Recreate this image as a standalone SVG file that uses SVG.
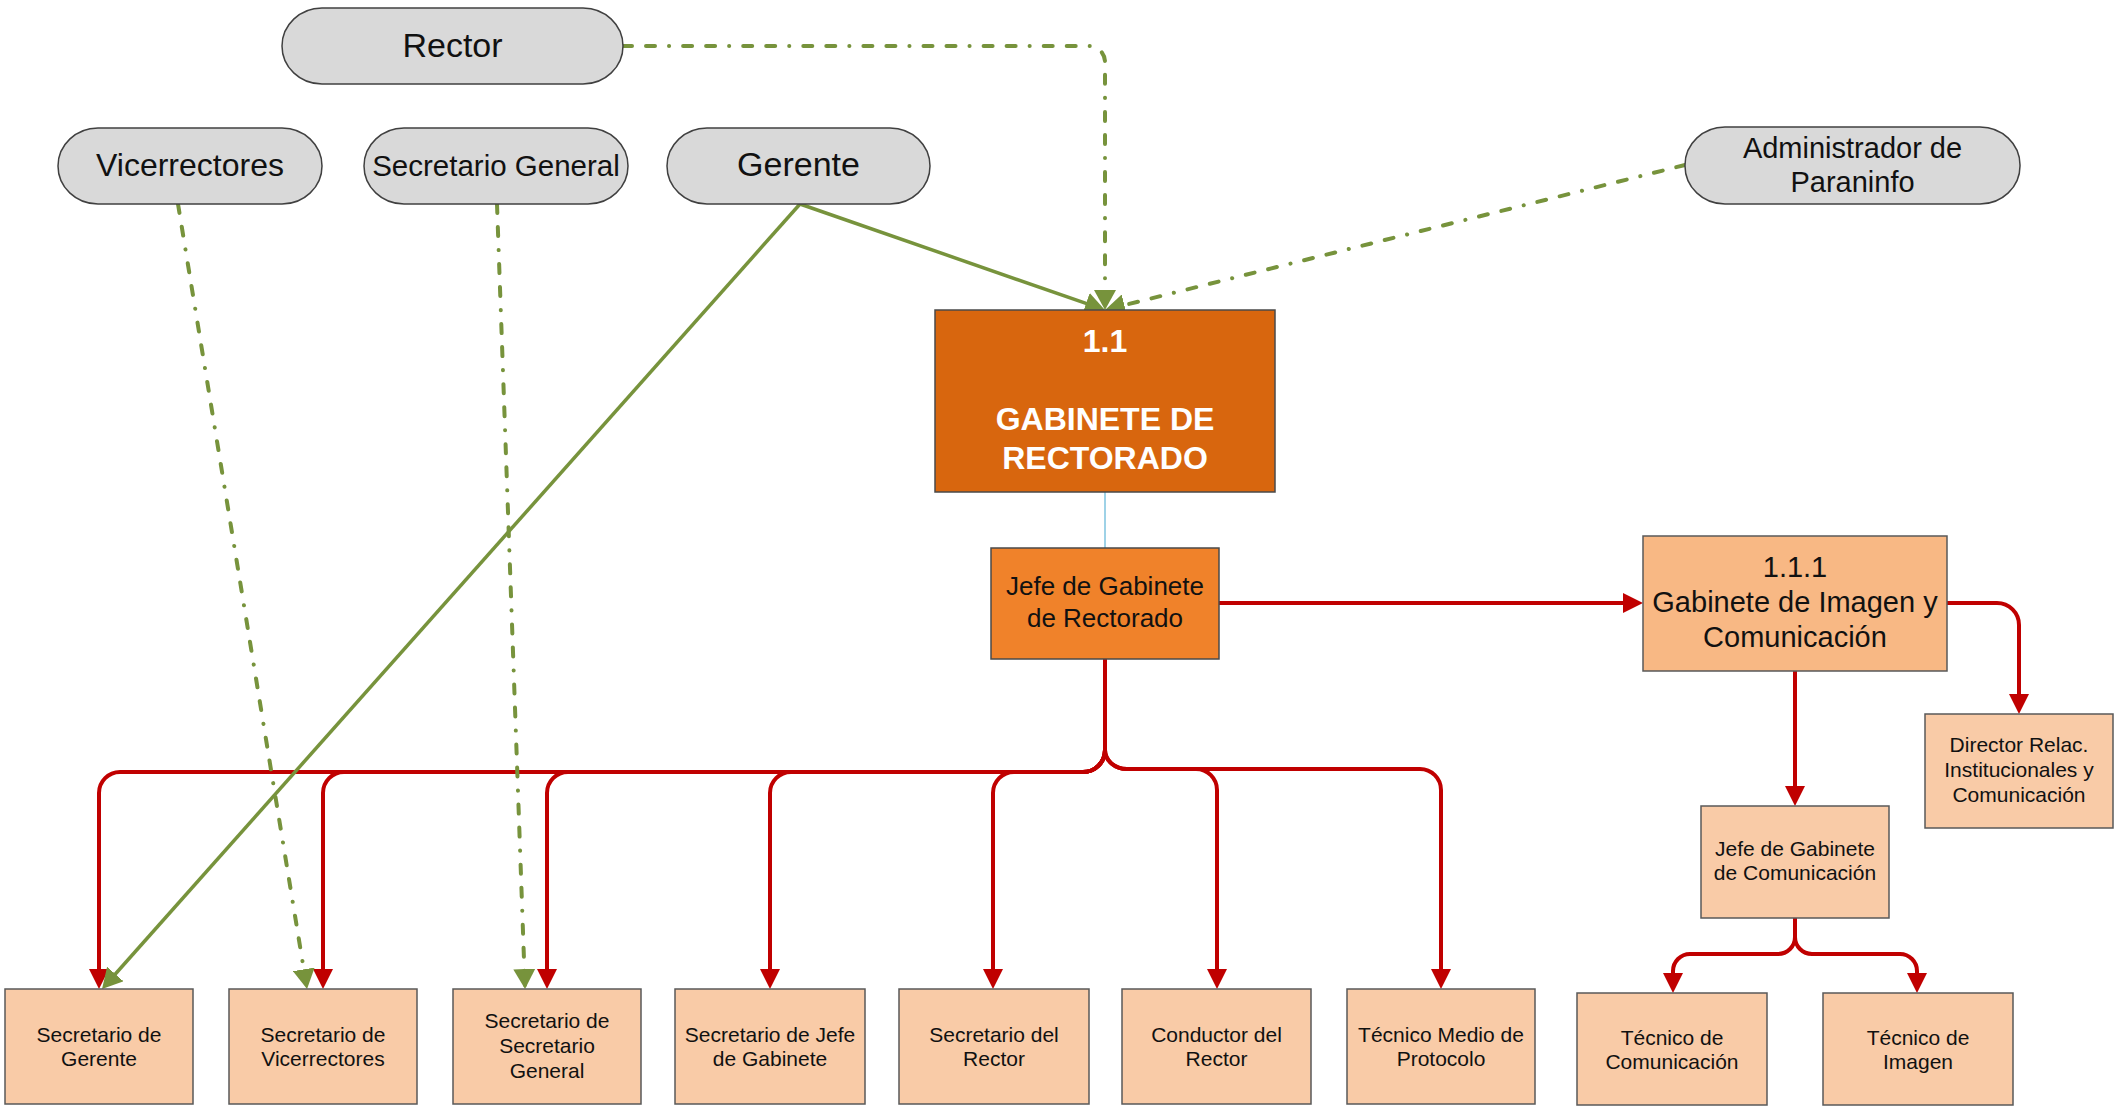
<svg xmlns="http://www.w3.org/2000/svg" width="2114" height="1114" viewBox="0 0 2114 1114">
<style>
  text { font-family: "Liberation Sans", Arial, sans-serif; fill: #111; text-anchor: middle; }
  .pill { fill: #D9D9D9; stroke: #404040; stroke-width: 1.5; }
  .box { fill: #F9CBA7; stroke: #595959; stroke-width: 1.5; }
  .red { fill: none; stroke: #C00000; stroke-width: 4; }
  .grn { fill: none; stroke: #77933C; stroke-width: 3.5; }
  .dd { fill: none; stroke: #77933C; stroke-width: 4; stroke-linecap: round; stroke-dasharray: 9 14 9 14 0.1 14; }
  .t21 { font-size: 21px; }
</style>
<defs>
  <marker id="arR" viewBox="0 0 20 20" refX="16" refY="10" markerWidth="20" markerHeight="20" orient="auto" markerUnits="userSpaceOnUse">
    <path d="M0,0 L20,10 L0,20 z" fill="#C00000"/>
  </marker>
  <marker id="arG" viewBox="0 0 20 22" refX="16" refY="11" markerWidth="20" markerHeight="22" orient="auto" markerUnits="userSpaceOnUse">
    <path d="M0,0 L20,11 L0,22 z" fill="#77933C"/>
  </marker>
</defs>
<rect width="2114" height="1114" fill="#FFFFFF"/>

<g id="connectors">
  <path d="M1105,492 V548" fill="none" stroke="#7EC3DF" stroke-width="1.5"/>
  <!-- Jefe to bottom row (left) -->
  <path class="red" marker-end="url(#arR)" d="M1105,659 V750 A22,22 0 0 1 1083,772 H120 A21,21 0 0 0 99,793 V985"/>
  <path class="red" marker-end="url(#arR)" d="M1105,659 V750 A22,22 0 0 1 1083,772 H344 A21,21 0 0 0 323,793 V985"/>
  <path class="red" marker-end="url(#arR)" d="M1105,659 V750 A22,22 0 0 1 1083,772 H568 A21,21 0 0 0 547,793 V985"/>
  <path class="red" marker-end="url(#arR)" d="M1105,659 V750 A22,22 0 0 1 1083,772 H791 A21,21 0 0 0 770,793 V985"/>
  <path class="red" marker-end="url(#arR)" d="M1105,659 V750 A22,22 0 0 1 1083,772 H1014 A21,21 0 0 0 993,793 V985"/>
  <!-- Jefe to bottom row (right) -->
  <path class="red" marker-end="url(#arR)" d="M1105,659 V750 A22,19 0 0 0 1127,769 H1196 A21,21 0 0 1 1217,790 V985"/>
  <path class="red" marker-end="url(#arR)" d="M1105,659 V750 A22,19 0 0 0 1127,769 H1420 A21,21 0 0 1 1441,790 V985"/>
  <!-- Jefe to 1.1.1 -->
  <path class="red" marker-end="url(#arR)" d="M1219,603 H1639"/>
  <!-- 1.1.1 to Director -->
  <path class="red" marker-end="url(#arR)" d="M1947,603 H1997 A22,22 0 0 1 2019,625 V710"/>
  <!-- 1.1.1 to Jefe Com -->
  <path class="red" marker-end="url(#arR)" d="M1795,671 V802"/>
  <!-- Jefe Com to Tecnicos -->
  <path class="red" marker-end="url(#arR)" d="M1795,918 V937 A17,17 0 0 1 1778,954 H1690 A17,17 0 0 0 1673,971 V989"/>
  <path class="red" marker-end="url(#arR)" d="M1795,918 V937 A17,17 0 0 0 1812,954 H1900 A17,17 0 0 1 1917,971 V989"/>

  <!-- green -->
  <path class="dd" marker-end="url(#arG)" d="M623,46 H1089 A16,16 0 0 1 1105,62 V306"/>
  <path class="grn" marker-end="url(#arG)" d="M800,204 L1101.2,308.7"/>
  <path class="dd" marker-end="url(#arG)" d="M1685,165 L1108.9,309"/>
  <path class="grn" marker-end="url(#arG)" d="M800,204 L104.7,986"/>
  <path class="dd" marker-end="url(#arG)" d="M178,204 L306.4,985.1"/>
  <path class="dd" marker-end="url(#arG)" d="M497,204 L524.9,985"/>
</g>

<g id="rector"><rect class="pill" x="282" y="8" width="341" height="76" rx="40" ry="38"/><text x="452.5" y="57" font-size="34">Rector</text></g>
<g id="vicerrectores"><rect class="pill" x="58" y="128" width="264" height="76" rx="40" ry="38"/><text x="190" y="176" font-size="32">Vicerrectores</text></g>
<g id="secretario-general"><rect class="pill" x="364" y="128" width="264" height="76" rx="40" ry="38"/><text x="496" y="176" font-size="29.5">Secretario General</text></g>
<g id="gerente"><rect class="pill" x="667" y="128" width="263" height="76" rx="40" ry="38"/><text x="798.5" y="176" font-size="34">Gerente</text></g>
<g id="administrador"><rect class="pill" x="1685" y="127" width="335" height="77" rx="40" ry="38"/><text x="1852.5" y="158" font-size="29">Administrador de</text><text x="1852.5" y="192" font-size="29">Paraninfo</text></g>

<g id="gabinete-rectorado"><rect x="935" y="310" width="340" height="182" fill="#D8660E" stroke="#4a4a4a" stroke-width="1.5"/>
  <text x="1105" y="352" font-size="32" font-weight="bold" style="fill:#fff">1.1</text>
  <text x="1105" y="430" font-size="32" font-weight="bold" style="fill:#fff">GABINETE DE</text>
  <text x="1105" y="469" font-size="32" font-weight="bold" style="fill:#fff">RECTORADO</text></g>
<g id="jefe-gabinete"><rect x="991" y="548" width="228" height="111" fill="#F0822A" stroke="#4a4a4a" stroke-width="1.5"/>
  <text x="1105" y="595" font-size="26">Jefe de Gabinete</text><text x="1105" y="627" font-size="26">de Rectorado</text></g>
<g id="gabinete-imagen"><rect x="1643" y="536" width="304" height="135" fill="#F8B884" stroke="#595959" stroke-width="1.5"/>
  <text x="1795" y="577" font-size="29">1.1.1</text><text x="1795" y="612" font-size="29">Gabinete de Imagen y</text><text x="1795" y="647" font-size="29">Comunicación</text></g>
<g id="director-relac"><rect class="box" x="1925" y="714" width="188" height="114"/>
  <text class="t21" x="2019" y="752">Director Relac.</text><text class="t21" x="2019" y="777">Institucionales y</text><text class="t21" x="2019" y="802">Comunicación</text></g>
<g id="jefe-comunicacion"><rect class="box" x="1701" y="806" width="188" height="112"/>
  <text class="t21" x="1795" y="856">Jefe de Gabinete</text><text class="t21" x="1795" y="880">de Comunicación</text></g>
<g id="tecnico-comunicacion"><rect class="box" x="1577" y="993" width="190" height="112"/>
  <text class="t21" x="1672" y="1045">Técnico de</text><text class="t21" x="1672" y="1069">Comunicación</text></g>
<g id="tecnico-imagen"><rect class="box" x="1823" y="993" width="190" height="112"/>
  <text class="t21" x="1918" y="1045">Técnico de</text><text class="t21" x="1918" y="1069">Imagen</text></g>

<g id="sec-gerente"><rect class="box" x="5" y="989" width="188" height="115"/><text class="t21" x="99" y="1042">Secretario de</text><text class="t21" x="99" y="1066">Gerente</text></g>
<g id="sec-vicerrectores"><rect class="box" x="229" y="989" width="188" height="115"/><text class="t21" x="323" y="1042">Secretario de</text><text class="t21" x="323" y="1066">Vicerrectores</text></g>
<g id="sec-secgeneral"><rect class="box" x="453" y="989" width="188" height="115"/><text class="t21" x="547" y="1028">Secretario de</text><text class="t21" x="547" y="1053">Secretario</text><text class="t21" x="547" y="1078">General</text></g>
<g id="sec-jefe"><rect class="box" x="675" y="989" width="190" height="115"/><text class="t21" x="770" y="1042">Secretario de Jefe</text><text class="t21" x="770" y="1066">de Gabinete</text></g>
<g id="sec-rector"><rect class="box" x="899" y="989" width="190" height="115"/><text class="t21" x="994" y="1042">Secretario del</text><text class="t21" x="994" y="1066">Rector</text></g>
<g id="conductor"><rect class="box" x="1122" y="989" width="189" height="115"/><text class="t21" x="1216.5" y="1042">Conductor del</text><text class="t21" x="1216.5" y="1066">Rector</text></g>
<g id="tecnico-protocolo"><rect class="box" x="1347" y="989" width="188" height="115"/><text class="t21" x="1441" y="1042">Técnico Medio de</text><text class="t21" x="1441" y="1066">Protocolo</text></g>
</svg>
